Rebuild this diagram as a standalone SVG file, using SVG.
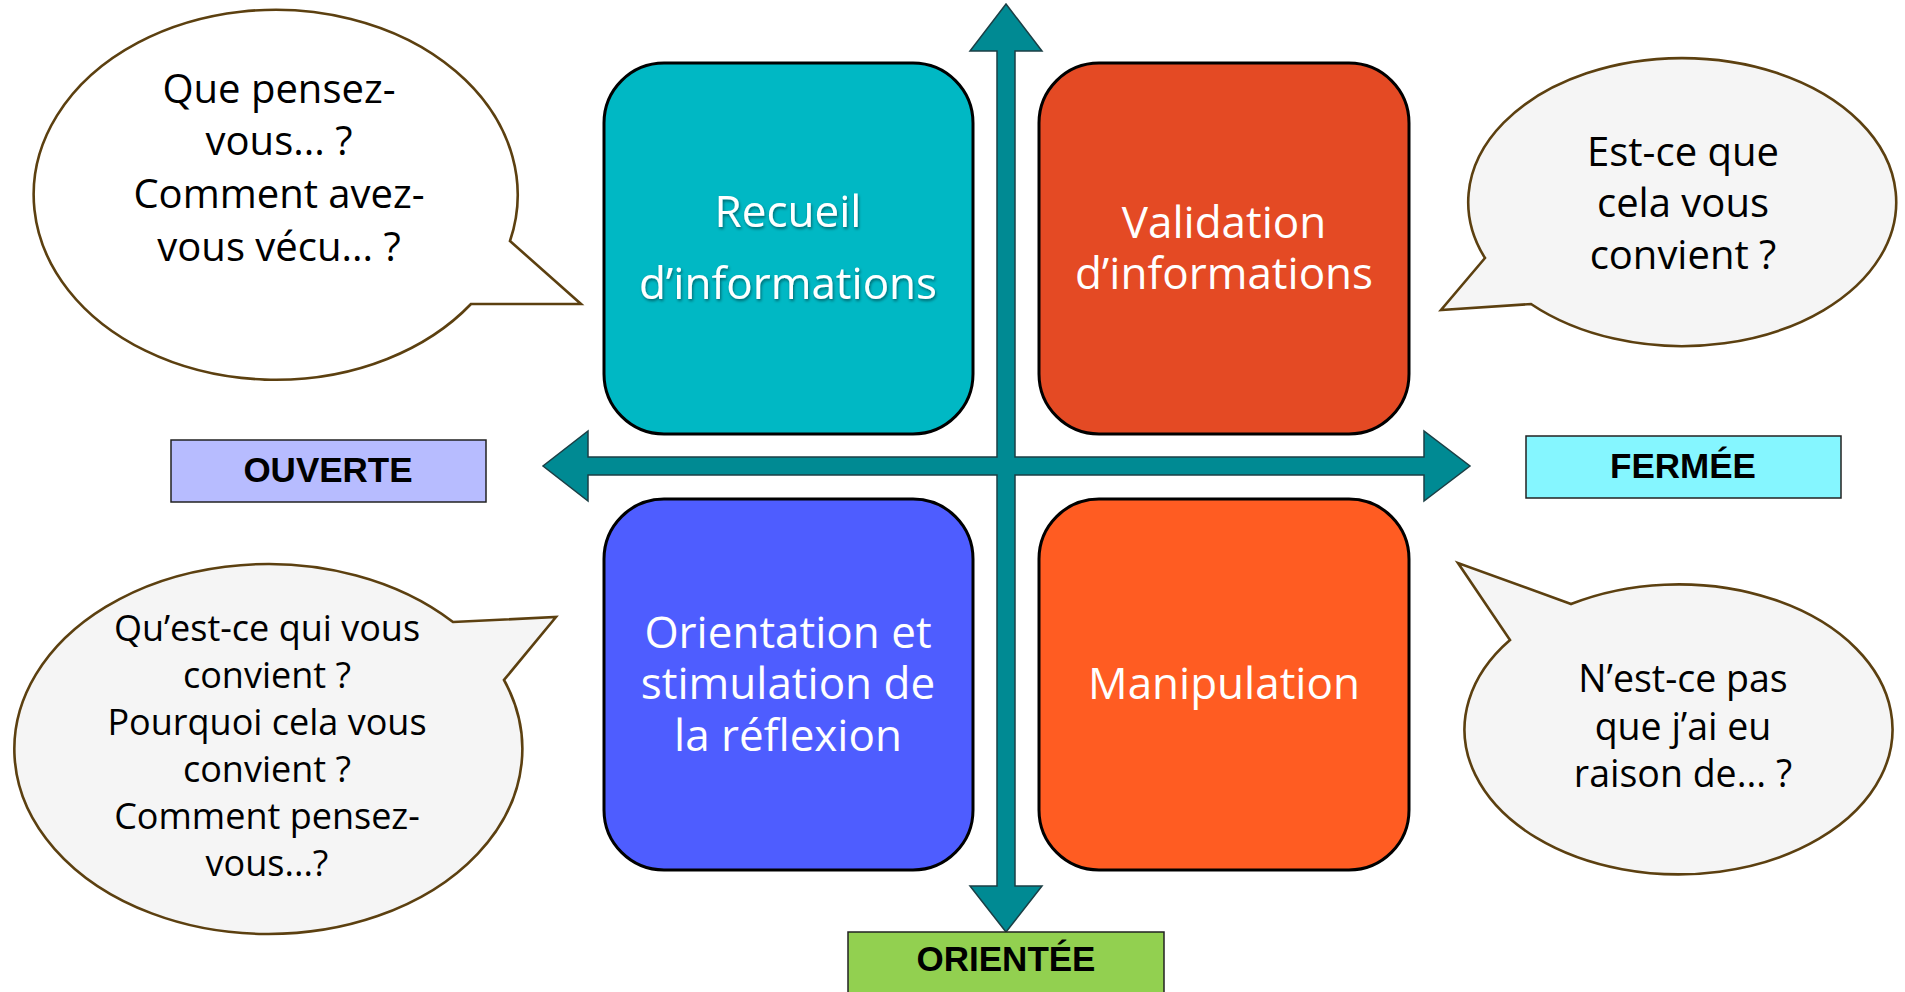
<svg xmlns="http://www.w3.org/2000/svg" width="1905" height="992" viewBox="0 0 1905 992">
<defs>
<style>
.bub{stroke:#5C4010;stroke-width:2.6;fill:#F5F5F5}
.bt{font-family:"Open Sans","Noto Sans",sans-serif;fill:#000;text-anchor:middle}
.box{stroke:#000;stroke-width:3}
.wt{font-family:"Open Sans","Noto Sans",sans-serif;fill:#fff;text-anchor:middle;font-size:44px}
.lab{stroke:#222;stroke-width:1.5}
.lt{font-family:"Liberation Sans",Arial,sans-serif;font-weight:bold;font-size:35px;fill:#000;text-anchor:middle}
</style>
<filter id="sh" x="-10%" y="-30%" width="120%" height="160%">
<feDropShadow dx="1" dy="2" stdDeviation="1.5" flood-color="#000" flood-opacity="0.45"/>
</filter>
</defs>
<rect width="1905" height="992" fill="#fff"/>

<g id="connectors">
<path d="M1006,4 L1042,51 L1015,51 L1015,457 L1424,457 L1424,431 L1470,466 L1424,501 L1424,475 L1015,475 L1015,886 L1042,886 L1006,932 L970,886 L997,886 L997,475 L588,475 L588,501 L543,466 L588,431 L588,457 L997,457 L997,51 L970,51 Z" fill="#008A93" stroke="#1B3F45" stroke-width="1.5" stroke-linejoin="miter"/>
</g>

<g id="box-recueil">
<rect class="box" x="604" y="63" width="369" height="371" rx="60" ry="60" fill="#00B8C4"/>
<g filter="url(#sh)">
<text class="wt" x="788" y="227">Recueil</text>
<text class="wt" x="788" y="299">d’informations</text>
</g>
</g>

<g id="box-validation">
<rect class="box" x="1039" y="63" width="370" height="371" rx="60" ry="60" fill="#E44A24"/>
<text class="wt" x="1224" y="238">Validation</text>
<text class="wt" x="1224" y="289">d’informations</text>
</g>

<g id="box-orientation">
<rect class="box" x="604" y="499" width="369" height="371" rx="60" ry="60" fill="#4E5DFF"/>
<text class="wt" x="788" y="648">Orientation et</text>
<text class="wt" x="788" y="699">stimulation de</text>
<text class="wt" x="788" y="751">la réflexion</text>
</g>

<g id="box-manipulation">
<rect class="box" x="1039" y="499" width="370" height="371" rx="60" ry="60" fill="#FF5C22"/>
<text class="wt" x="1224" y="699">Manipulation</text>
</g>

<g id="label-ouverte">
<rect class="lab" x="171" y="440" width="315" height="62" fill="#B7BCFF"/>
<text class="lt" x="328" y="482">OUVERTE</text>
</g>

<g id="label-fermee">
<rect class="lab" x="1526" y="436" width="315" height="62" fill="#85F6FF"/>
<text class="lt" x="1683" y="478">FERMÉE</text>
</g>

<g id="label-orientee">
<rect class="lab" x="848" y="932" width="316" height="64" fill="#92D050"/>
<text class="lt" x="1006" y="971">ORIENTÉE</text>
</g>

<g id="bubble-top-left">
<path class="bub" style="fill:#fff" d="M510,241 L581,304 L471,304 A242,185 0 1 1 510,241 Z"/>
<text class="bt" font-size="40" x="279" y="103">Que pensez-</text>
<text class="bt" font-size="40" x="279" y="155">vous... ?</text>
<text class="bt" font-size="40" x="279" y="208">Comment avez-</text>
<text class="bt" font-size="40" x="279" y="261">vous vécu... ?</text>
</g>

<g id="bubble-top-right">
<path class="bub" d="M1485,258 L1441,310 L1531,304 A214,144 0 1 0 1485,258 Z"/>
<text class="bt" font-size="40" x="1683" y="166">Est-ce que</text>
<text class="bt" font-size="40" x="1683" y="217">cela vous</text>
<text class="bt" font-size="40" x="1683" y="269">convient ?</text>
</g>

<g id="bubble-bottom-left">
<path class="bub" d="M453,622 L556,617 L504,680 A254,185 0 1 1 453,622 Z"/>
<text class="bt" font-size="36" x="267" y="641">Qu’est-ce qui vous</text>
<text class="bt" font-size="36" x="267" y="688">convient ?</text>
<text class="bt" font-size="36" x="267" y="735">Pourquoi cela vous</text>
<text class="bt" font-size="36" x="267" y="782">convient ?</text>
<text class="bt" font-size="36" x="267" y="829">Comment pensez-</text>
<text class="bt" font-size="36" x="267" y="876">vous...?</text>
</g>

<g id="bubble-bottom-right">
<path class="bub" d="M1571,604 L1458,563 L1510,640 A214,145 0 1 0 1571,604 Z"/>
<text class="bt" font-size="37.5" x="1683" y="692">N’est-ce pas</text>
<text class="bt" font-size="37.5" x="1683" y="740">que j’ai eu</text>
<text class="bt" font-size="37.5" x="1683" y="787">raison de... ?</text>
</g>
</svg>
